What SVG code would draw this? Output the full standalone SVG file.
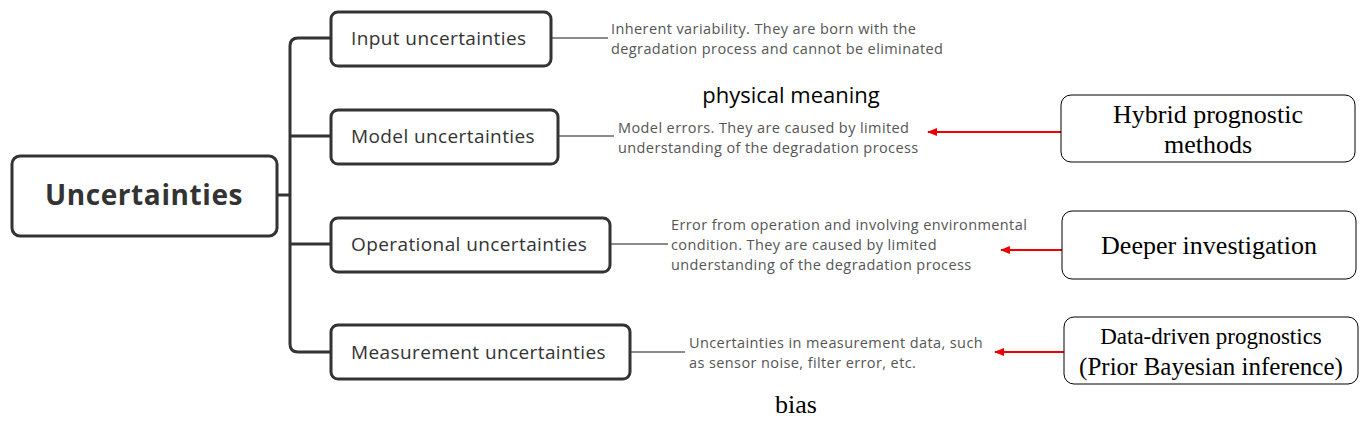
<svg xmlns="http://www.w3.org/2000/svg" width="1365" height="427" viewBox="0 0 1365 427">
<defs>
<style>
.node{fill:#fff;stroke:#333;stroke-width:3}
.rnode{fill:#fff;stroke:#000;stroke-width:1}
.lbl{font-family:"Open Sans",sans-serif;font-size:19px;letter-spacing:0.4px;fill:#333}
.root{font-family:"Open Sans",sans-serif;font-size:28px;letter-spacing:0.6px;font-weight:bold;fill:#333}
.desc{font-family:"Open Sans",sans-serif;font-size:14.5px;letter-spacing:0.4px;fill:#555}
.ser{font-family:"Liberation Serif",serif;fill:#000}
.br{fill:none;stroke:#333;stroke-width:3}
.dl{stroke:#666;stroke-width:1.3}
.ra{stroke:#e00;stroke-width:2;marker-end:url(#ah)}
</style>
<marker id="ah" markerWidth="10" markerHeight="8" refX="9" refY="4" orient="auto" markerUnits="userSpaceOnUse">
<path d="M0,0 L10,4 L0,8 Z" fill="#e00"/>
</marker>
</defs>
<rect width="1365" height="427" fill="#fff"/>
<g id="connectors">
<path class="br" d="M277,195 H290"/>
<path class="br" d="M331,38 H298 Q290,38 290,46 V344 Q290,352 298,352 H331"/>
<path class="br" d="M290,136 H331"/>
<path class="br" d="M290,244 H331"/>
<line class="dl" x1="551" y1="38" x2="608" y2="38"/>
<line class="dl" x1="558" y1="136" x2="614" y2="136"/>
<line class="dl" x1="610" y1="244" x2="668" y2="244"/>
<line class="dl" x1="630" y1="352" x2="685" y2="352"/>
<line class="ra" x1="1061" y1="132" x2="928" y2="132"/>
<line class="ra" x1="1062" y1="250" x2="1001" y2="250"/>
<line class="ra" x1="1064" y1="352" x2="995" y2="352"/>
</g>
<g id="root">
<rect class="node" x="12" y="156" width="265" height="80" rx="8"/>
<text class="root" x="144" y="205" text-anchor="middle">Uncertainties</text>
</g>
<g id="input">
<rect class="node" x="331" y="12" width="220" height="54" rx="7"/>
<text class="lbl" x="351" y="45">Input uncertainties</text>
</g>
<g id="model">
<rect class="node" x="331" y="110" width="227" height="54" rx="7"/>
<text class="lbl" x="351" y="143">Model uncertainties</text>
</g>
<g id="operational">
<rect class="node" x="331" y="218" width="279" height="54" rx="7"/>
<text class="lbl" x="351" y="251">Operational uncertainties</text>
</g>
<g id="measurement">
<rect class="node" x="331" y="325" width="299" height="54" rx="7"/>
<text class="lbl" x="351" y="359">Measurement uncertainties</text>
</g>
<g id="desc-input">
<text class="desc" x="611" y="34">Inherent variability. They are born with the</text>
<text class="desc" x="611" y="54">degradation process and cannot be eliminated</text>
</g>
<g id="desc-model">
<text class="desc" x="618" y="133">Model errors. They are caused by limited</text>
<text class="desc" x="618" y="153">understanding of the degradation process</text>
</g>
<g id="desc-operational">
<text class="desc" x="671" y="230">Error from operation and involving environmental</text>
<text class="desc" x="671" y="250">condition. They are caused by limited</text>
<text class="desc" x="671" y="270">understanding of the degradation process</text>
</g>
<g id="desc-measurement">
<text class="desc" x="689" y="348">Uncertainties in measurement data, such</text>
<text class="desc" x="689" y="368">as sensor noise, filter error, etc.</text>
</g>
<g id="label-physical">
<text x="791" y="103" text-anchor="middle" style="font-family:'Open Sans',sans-serif;font-size:22px;fill:#000">physical meaning</text>
</g>
<g id="label-bias">
<text class="ser" x="796" y="413" text-anchor="middle" font-size="26">bias</text>
</g>
<g id="hybrid">
<rect class="rnode" x="1061" y="95" width="294" height="67" rx="10"/>
<text class="ser" x="1208" y="123" text-anchor="middle" font-size="26">Hybrid prognostic</text>
<text class="ser" x="1208" y="153" text-anchor="middle" font-size="26">methods</text>
</g>
<g id="deeper">
<rect class="rnode" x="1062" y="211" width="294" height="68" rx="10"/>
<text class="ser" x="1209" y="254" text-anchor="middle" font-size="26">Deeper investigation</text>
</g>
<g id="datadriven">
<rect class="rnode" x="1064" y="317" width="294" height="67" rx="10"/>
<text class="ser" x="1211" y="344" text-anchor="middle" font-size="23">Data-driven prognostics</text>
<text class="ser" x="1211" y="375" text-anchor="middle" font-size="25">(Prior Bayesian inference)</text>
</g>
</svg>
